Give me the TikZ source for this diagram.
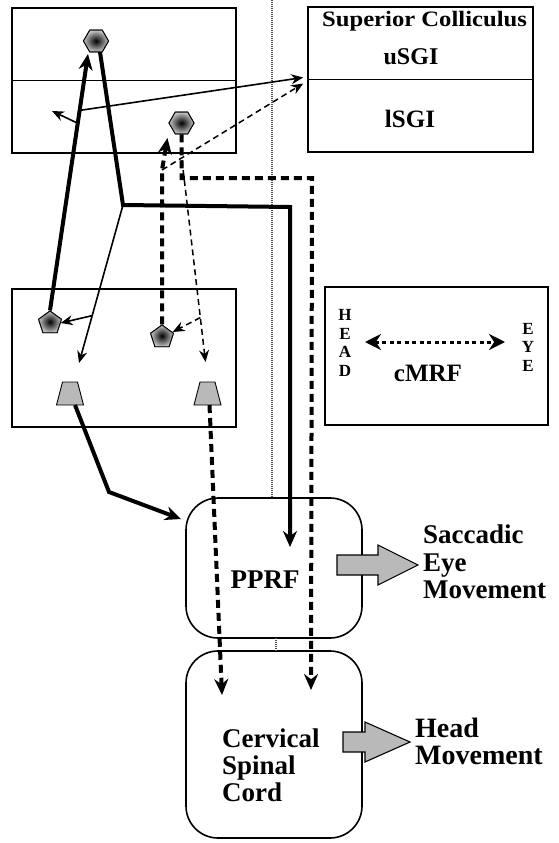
\documentclass[tikz,border=0pt]{standalone}
\usepackage{fontspec}
\setmainfont{Liberation Serif}
\newfontfamily\widefont[FakeStretch=1.12]{Liberation Serif}
\usetikzlibrary{arrows.meta,shapes.geometric,calc}
\begin{document}
\begin{tikzpicture}[x=1pt,y=-1pt,
  boxline/.style={draw,line width=1.6pt,inner sep=0pt},
  thickln/.style={line width=4pt},
  thinln/.style={line width=1.6pt},
  thickdash/.style={line width=4pt,dash pattern=on 8pt off 5pt},
  thindash/.style={line width=1.5pt,dash pattern=on 6pt off 4pt},
  bigtip/.style={-{Stealth[length=16pt,width=14pt]}},
  smalltip/.style={-{Stealth[length=12pt,width=10pt]}},
  hexa/.style={regular polygon,regular polygon sides=6,minimum size=25pt,inner sep=0pt,draw,line width=0.9pt,inner color=black,outer color=gray!45},
  penta/.style={regular polygon,regular polygon sides=5,minimum size=24pt,inner sep=0pt,draw,line width=0.9pt,inner color=black,outer color=gray!45},
  trapst/.style={draw,line width=0.9pt,fill=gray!55},
  bigtxt/.style={font=\bfseries\fontsize{27}{27}\selectfont,inner sep=0pt},
  vtxt/.style={inner sep=0pt,align=center,font=\bfseries\fontsize{17}{18.5}\selectfont},
  midline/.style={line width=2pt,black!70,dash pattern=on 1pt off 1pt},
  blockarrow/.style={draw,line width=1.1pt,fill=gray!55}
]
\useasboundingbox (0,0) rectangle (558,843);
% boxes
\node[boxline,minimum width=224pt,minimum height=145pt] (tl) at (124,80.5) {};
\draw[line width=1.8pt] (tl.west) -- (tl.east);
\node[boxline,minimum width=225pt,minimum height=145pt] (sc) at (420.5,79.5) {};
\draw[line width=1.8pt] (sc.west) -- (sc.east);
\node[boxline,minimum width=224pt,minimum height=138pt] (mb) at (124,358) {};
\node[boxline,minimum width=223pt,minimum height=138pt] (cm) at (436.5,356) {};
\node[boxline,rounded corners=32pt,minimum width=176pt,minimum height=140pt] (pprf) at (274,568) {};
\node[boxline,rounded corners=32pt,minimum width=176pt,minimum height=187pt] (cerv) at (274,744.5) {};
% midline
\coordinate (mtop) at (272,0);
\draw[midline] (mtop) -- (mtop |- pprf.north);
\coordinate (mm1) at (276,638);
\coordinate (mm2) at (276,651);
\draw[midline] (mm1) -- (mm2);
% cell nodes
\node[hexa] (h1) at (96,41) {};
\node[hexa] (h2) at (181.5,123) {};
\node[penta] (p1) at (50,323) {};
\node[penta] (p2) at (162,337) {};
\coordinate (t1) at (70,393.5);
\coordinate (t2) at (207.5,393.5);
\draw[trapst] ($(t1)+(-13.5,11.5)$) -- ($(t1)+(13.5,11.5)$) -- ($(t1)+(7.5,-11.5)$) -- ($(t1)+(-7.5,-11.5)$) -- cycle;
\draw[trapst] ($(t2)+(-13.5,11.5)$) -- ($(t2)+(13.5,11.5)$) -- ($(t2)+(7.5,-11.5)$) -- ($(t2)+(-7.5,-11.5)$) -- cycle;
\coordinate (t1n) at ($(t1)+(0,-11.5)$);
\coordinate (t1s) at ($(t1)+(5,11.5)$);
\coordinate (t2n) at ($(t2)+(0,-11.5)$);
\coordinate (t2s) at ($(t2)+(2,11.5)$);
% thick solid
\coordinate (h1in) at ($(h1)+(-8,13)$);
\coordinate (h1out) at ($(h1)+(4,11)$);
\coordinate (c1) at (123,205);
\coordinate (c2) at (290,207);
\coordinate (pprfin) at (290,547);
\draw[thickln,bigtip] (p1.north) -- (h1in);
\draw[thickln,bigtip] (h1out) -- (c1) -- (c2) -- (pprfin);
% thin solid
\coordinate (t1tip) at ($(t1n)+(9,-19)$);
\coordinate (lt) at (52,111);
\draw[thinln,smalltip] (c1) -- (t1tip);
\draw[thinln,smalltip] ($(c1)!0.7!(t1tip)$) -- (p1.east);
\draw[thinln,smalltip] ($(p1.north)!0.78!(h1in)$) -- ($(sc.west)+(-4,-2)$);
\draw[thinln,smalltip] ($(p1.north)!0.73!(h1in)$) -- (lt);
% thick dashed
\coordinate (d1) at (181.5,178);
\coordinate (d2) at (312,178);
\coordinate (cervin1) at (311,690);
\draw[thickdash,bigtip] (h2.south) -- (d1) -- (d2) -- (cervin1);
\coordinate (b8) at (162,170);
\coordinate (h2in) at ($(h2)+(-14,15)$);
\draw[thickdash,bigtip] (p2.north) -- (b8) -- (h2in);
% thin dashed
\coordinate (t2tip) at ($(t2n)+(-2,-20)$);
\coordinate (d3) at (182,160);
\draw[thindash,smalltip] (b8) -- ($(sc.west)+(-4,4)$);
\draw[thindash,smalltip] (d3) -- (t2tip);
\draw[thindash,smalltip] ($(d3)!0.78!(t2tip)$) -- ($(p2.east)+(0,-5)$);
% trapezoid outputs
\coordinate (k1) at (109,492);
\coordinate (pprfin2) at (181,519);
\draw[thickln,bigtip] (t1s) -- (k1) -- (pprfin2);
\coordinate (cervin2) at (222,695);
\draw[thickdash,bigtip] (t2s) -- (cervin2);
% redraw cells on top
\node[hexa] at (h1) {};
\node[hexa] at (h2) {};
\node[penta] at (p1) {};
\node[penta] at (p2) {};
% block arrows
\draw[blockarrow] (337,555) -- (378,555) -- (378,545) -- (418,565) -- (378,585) -- (378,575) -- (337,575) -- cycle;
\draw[blockarrow] (343,732) -- (365,732) -- (365,722) -- (410,742) -- (365,762) -- (365,752) -- (343,752) -- cycle;
% cMRF arrow
\coordinate (ha) at (365,342);
\coordinate (ea) at (505,342);
\draw[line width=3pt,dash pattern=on 4pt off 3.5pt,{Stealth[length=16pt,width=16pt]}-{Stealth[length=16pt,width=16pt]}] (ha) -- (ea);
% texts
\node[inner sep=0pt,anchor=base west,font=\widefont\bfseries\fontsize{22}{22}\selectfont] (tsc) at (322,27) {Superior Colliculus};
\node[inner sep=0pt,anchor=base,font=\bfseries\fontsize{24}{24}\selectfont] (tu) at (411,65) {uSGI};
\node[inner sep=0pt,anchor=base,font=\bfseries\fontsize{25}{25}\selectfont] (tl2) at (410,127) {lSGI};
\node[vtxt] (thead) at (345,343) {H\\E\\A\\D};
\node[vtxt] (teye) at (528,347) {E\\Y\\E};
\node[inner sep=0pt,anchor=base,font=\bfseries\fontsize{25}{25}\selectfont] (tcm) at (428,381) {cMRF};
\node[bigtxt,anchor=base] (tpprf) at (265,588) {PPRF};
\node[bigtxt,anchor=base west] (s1) at (423,543) {Saccadic};
\node[bigtxt,anchor=base west] (s2) at (423,571) {Eye};
\node[bigtxt,anchor=base west] (s3) at (423,598) {Movement};
\node[bigtxt,anchor=base west,font=\bfseries\fontsize{28}{28}\selectfont] (hm1) at (415,737) {Head};
\node[bigtxt,anchor=base west,font=\bfseries\fontsize{28}{28}\selectfont] (hm2) at (415,764) {Movement};
\node[bigtxt,anchor=base west] (cv1) at (222,747) {Cervical};
\node[bigtxt,anchor=base west] (cv2) at (222,774) {Spinal};
\node[bigtxt,anchor=base west] (cv3) at (222,801) {Cord};
\end{tikzpicture}
\end{document}
